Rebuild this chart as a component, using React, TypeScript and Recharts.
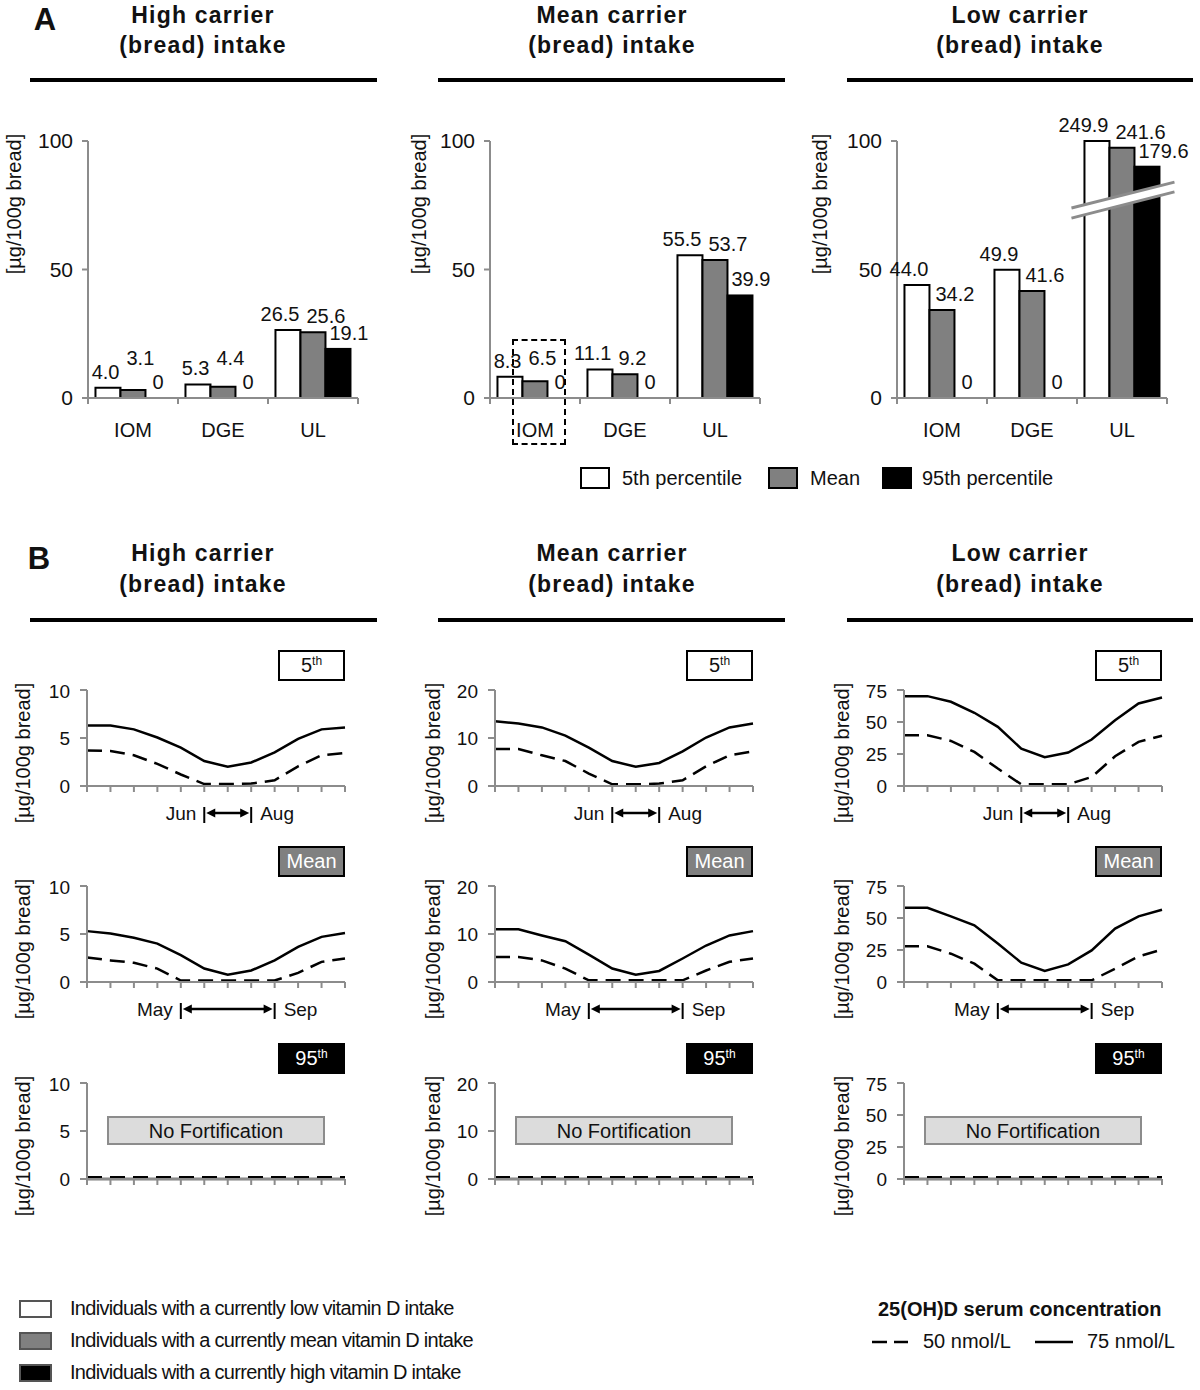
import React from "react";
import {
  BarChart,
  Bar,
  LineChart,
  Line,
  XAxis,
  YAxis,
  LabelList,
  ReferenceLine,
} from "recharts";

const FONT = '"Liberation Sans", Arial, Helvetica, sans-serif';
const AXIS = "#8c8c8c";

// ---- panel A: required fortification per guideline ----
const guidelines = ["IOM", "DGE", "UL"];

const highP5 = [4.0, 5.3, 26.5];
const highMean = [3.1, 4.4, 25.6];
const highP95 = [0, 0, 19.1];

const meanP5 = [8.3, 11.1, 55.5];
const meanMean = [6.5, 9.2, 53.7];
const meanP95 = [0, 0, 39.9];

const lowP5 = [44.0, 49.9, 249.9];
const lowMean = [34.2, 41.6, 241.6];
const lowP95 = [0, 0, 179.6];
// UL bars of the low carrier panel are cut by an axis break, these are the drawn heights
const lowP5Drawn = [44.0, 49.9, 100];
const lowMeanDrawn = [34.2, 41.6, 97.4];
const lowP95Drawn = [0, 0, 90];

// ---- panel B: monthly fortification to reach 50 / 75 nmol/L ----
const months = ["Jan", "Feb", "Mar", "Apr", "May", "Jun", "Jul", "Aug", "Sep", "Oct", "Nov", "Dec"];

const high5th75 = [6.3, 6.3, 5.9, 5.05, 4.0, 2.6, 2.0, 2.45, 3.5, 4.9, 5.9, 6.1];
const high5th50 = [3.7, 3.65, 3.2, 2.3, 1.2, 0.2, 0.2, 0.25, 0.6, 2.05, 3.2, 3.45];
const highMean75 = [5.3, 5.05, 4.6, 4.0, 2.8, 1.4, 0.75, 1.2, 2.25, 3.65, 4.7, 5.1];
const highMean50 = [2.55, 2.25, 2.0, 1.4, 0.15, 0.15, 0.15, 0.15, 0.15, 0.95, 2.1, 2.45];
const highP95_75 = [0, 0, 0, 0, 0, 0, 0, 0, 0, 0, 0, 0];
const highP95_50 = [0.15, 0.15, 0.15, 0.15, 0.15, 0.15, 0.15, 0.15, 0.15, 0.15, 0.15, 0.15];

const mean5th75 = [13.5, 13.0, 12.2, 10.5, 8.0, 5.2, 4.0, 4.8, 7.2, 10.1, 12.2, 13.0];
const mean5th50 = [7.7, 7.7, 6.4, 5.2, 2.6, 0.35, 0.35, 0.5, 1.2, 4.1, 6.4, 7.2];
const meanMean75 = [11.0, 11.0, 9.7, 8.5, 5.7, 2.8, 1.5, 2.3, 4.9, 7.6, 9.7, 10.6];
const meanMean50 = [5.2, 5.2, 4.5, 2.8, 0.35, 0.35, 0.35, 0.35, 0.35, 2.4, 4.2, 4.9];
const meanP95_75 = [0, 0, 0, 0, 0, 0, 0, 0, 0, 0, 0, 0];
const meanP95_50 = [0.3, 0.3, 0.3, 0.3, 0.3, 0.3, 0.3, 0.3, 0.3, 0.3, 0.3, 0.3];

const low5th75 = [70.2, 70.2, 65.8, 57.2, 46.2, 29.2, 22.5, 26.1, 36.3, 51.4, 64.5, 69.2];
const low5th50 = [39.7, 39.7, 35.2, 26.6, 13.6, 1.3, 1.3, 1.3, 7.0, 23.2, 34.5, 39.2];
const lowMean75 = [58.0, 58.0, 51.3, 44.3, 30.0, 15.1, 8.6, 13.8, 24.7, 41.7, 51.3, 56.5];
const lowMean50 = [27.9, 27.9, 22.1, 14.3, 1.3, 1.3, 1.3, 1.3, 1.3, 10.4, 20.0, 25.3];
const lowP95_75 = [0, 0, 0, 0, 0, 0, 0, 0, 0, 0, 0, 0];
const lowP95_50 = [1.1, 1.1, 1.1, 1.1, 1.1, 1.1, 1.1, 1.1, 1.1, 1.1, 1.1, 1.1];

const fmt = (v: number) => (v === 0 ? "0" : v.toFixed(1));

function barRows(p5: number[], mean: number[], p95: number[], d5 = p5, dm = mean, d95 = p95) {
  return guidelines.map((name, i) => ({
    name,
    p5: d5[i],
    mean: dm[i],
    p95: d95[i],
    p5Label: fmt(p5[i]),
    meanLabel: fmt(mean[i]),
    p95Label: fmt(p95[i]),
  }));
}

// layout of the small multiples
const BAR_LEFTS = [88, 490, 897];
const BAR_TOP = 141;
const BAR_W = 270;
const BAR_H = 257;

const LINE_LEFTS = [87, 495, 904];
const LINE_TOPS = [690, 886, 1083];
const LINE_W = 258;
const LINE_H = 96;

const Abs = ({ x, y, children, style }: any) => (
  <div
    style={{
      position: "absolute",
      left: x,
      top: y,
      transform: "translate(-50%, -50%)",
      whiteSpace: "nowrap",
      fontFamily: FONT,
      color: "#111",
      ...style,
    }}
  >
    {children}
  </div>
);

const YLabel = ({ x, y }: { x: number; y: number }) => (
  <Abs x={x} y={y} style={{ fontSize: 20, transform: "translate(-50%, -50%) rotate(-90deg)" }}>
    [µg/100g bread]
  </Abs>
);

function barLabel(kind: "p5" | "mean" | "p95") {
  return (props: any) => {
    const { x, y, width, height, value } = props;
    if (value == null) return null;
    const text = String(value);
    const axisY = y + height;
    let tx = x + width / 2;
    let anchor: "middle" | "start" | "end" = "middle";
    let cy = y - 16;
    if (text !== "0") {
      if (kind === "p5") {
        tx = x + width - 1;
        anchor = "end";
      } else if (kind === "mean") {
        tx = x + 6;
        anchor = "start";
        cy = Math.min(cy, axisY - 40);
      } else {
        tx = x + 4;
        anchor = "start";
      }
    }
    return (
      <text x={tx} y={cy + 7} textAnchor={anchor} fontSize={20} fill="#111" fontFamily={FONT}>
        {text}
      </text>
    );
  };
}

// black bar; on the broken UL group it also paints the axis break over the three bars
function BrokenBar(props: any) {
  const { x, y, width, height, fill, index, payload, withBreak } = props;
  if (!height || height <= 0) return <g />;
  const rect = <rect x={x} y={y} width={width} height={height} fill={fill} stroke="#000" strokeWidth={2} />;
  if (!withBreak || index !== 2) return rect;
  const ppu = height / payload.p95;
  const base = y + height;
  const xl = x - 2 * width - 13;
  const xr = x + width + 15;
  const at = (v: number) => base - v * ppu;
  return (
    <g>
      {rect}
      <polygon
        points={`${xl},${at(73.9)} ${xr},${at(84)} ${xr},${at(80.2)} ${xl},${at(70)}`}
        fill="#fff"
        stroke="none"
      />
      <line x1={xl} y1={at(73.9)} x2={xr} y2={at(84)} stroke={AXIS} strokeWidth={3} />
      <line x1={xl} y1={at(70)} x2={xr} y2={at(80.2)} stroke={AXIS} strokeWidth={3} />
    </g>
  );
}

function GuideTick(props: any) {
  const { x, y, payload, index, band } = props;
  const axisY = y - 8;
  return (
    <g>
      <line x1={x - band / 2} x2={x - band / 2} y1={axisY} y2={axisY + 6} stroke={AXIS} strokeWidth={2} />
      {index === guidelines.length - 1 && (
        <line x1={x + band / 2} x2={x + band / 2} y1={axisY} y2={axisY + 6} stroke={AXIS} strokeWidth={2} />
      )}
      <text x={x} y={axisY + 39} textAnchor="middle" fontSize={20} fill="#111" fontFamily={FONT}>
        {payload.value}
      </text>
    </g>
  );
}

function GuidelineBars({ left, rows, withBreak }: { left: number; rows: any[]; withBreak?: boolean }) {
  const W = 64;
  const mt = 45;
  const mr = 40;
  const xh = 50;
  return (
    <div style={{ position: "absolute", left: left - W, top: BAR_TOP - mt }}>
      <BarChart
        width={W + BAR_W + mr}
        height={mt + BAR_H + xh}
        data={rows}
        margin={{ top: mt, right: mr, bottom: 0, left: 0 }}
        barCategoryGap="8.3%"
        barGap={0}
      >
        <XAxis
          dataKey="name"
          height={xh}
          axisLine={{ stroke: AXIS, strokeWidth: 2 }}
          tickLine={false}
          tickSize={6}
          tickMargin={2}
          interval={0}
          tick={<GuideTick band={BAR_W / guidelines.length} />}
        />
        <YAxis
          width={W}
          domain={[0, 100]}
          ticks={[0, 50, 100]}
          axisLine={{ stroke: AXIS, strokeWidth: 2 }}
          tickLine={{ stroke: AXIS, strokeWidth: 2 }}
          tickSize={6}
          tickMargin={9}
          tick={{ fontSize: 21, fill: "#111", fontFamily: FONT }}
        />
        <Bar dataKey="p5" fill="#ffffff" stroke="#000" strokeWidth={2} isAnimationActive={false}>
          <LabelList dataKey="p5Label" content={barLabel("p5")} />
        </Bar>
        <Bar dataKey="mean" fill="#808080" stroke="#000" strokeWidth={2} isAnimationActive={false}>
          <LabelList dataKey="meanLabel" content={barLabel("mean")} />
        </Bar>
        <Bar
          dataKey="p95"
          fill="#000000"
          isAnimationActive={false}
          shape={(p: any) => <BrokenBar {...p} withBreak={withBreak} />}
        >
          <LabelList dataKey="p95Label" content={barLabel("p95")} />
        </Bar>
      </BarChart>
    </div>
  );
}

const STEP = LINE_W / (months.length - 1);

function MonthTick(props: any) {
  const { x, y, index, annot } = props;
  if (!annot) return <g />;
  const [s, e, l1, l2] = annot;
  const axisY = y - 8;
  const top = axisY + 21;
  const bot = axisY + 37;
  const mid = axisY + 27;
  if (index === s) {
    const x2 = x + (e - s) * STEP;
    return (
      <g>
        <text x={x - 8} y={mid + 7} textAnchor="end" fontSize={19} fill="#111" fontFamily={FONT}>
          {l1}
        </text>
        <line x1={x} x2={x} y1={top} y2={bot} stroke="#000" strokeWidth={2} />
        <line x1={x + 8} x2={x2 - 8} y1={mid} y2={mid} stroke="#000" strokeWidth={2.5} />
        <polygon points={`${x + 2},${mid} ${x + 11},${mid - 4.5} ${x + 11},${mid + 4.5}`} fill="#000" />
        <polygon points={`${x2 - 2},${mid} ${x2 - 11},${mid - 4.5} ${x2 - 11},${mid + 4.5}`} fill="#000" />
      </g>
    );
  }
  if (index === e) {
    return (
      <g>
        <line x1={x} x2={x} y1={top} y2={bot} stroke="#000" strokeWidth={2} />
        <text x={x + 9} y={mid + 7} textAnchor="start" fontSize={19} fill="#111" fontFamily={FONT}>
          {l2}
        </text>
      </g>
    );
  }
  return <g />;
}

function NoFortLabel(props: any) {
  const vb = props.viewBox || {};
  const cx = vb.x + vb.width / 2;
  const cy = vb.y;
  return (
    <g>
      <rect x={cx - 108} y={cy - 14} width={216} height={27} fill="#dcdcdc" stroke={AXIS} strokeWidth={2} />
      <text x={cx} y={cy + 7} textAnchor="middle" fontSize={20} fill="#111" fontFamily={FONT}>
        No Fortification
      </text>
    </g>
  );
}

function SeasonLines({
  left,
  top,
  ymax,
  ticks,
  solid,
  dashed,
  annot,
  noFort,
}: {
  left: number;
  top: number;
  ymax: number;
  ticks: number[];
  solid: number[];
  dashed: number[];
  annot?: [number, number, string, string];
  noFort?: boolean;
}) {
  const W = 64;
  const mt = 10;
  const xh = 45;
  const data = months.map((m, i) => ({ m, c75: solid[i], c50: dashed[i] }));
  return (
    <div style={{ position: "absolute", left: left - W, top: top - mt }}>
      <LineChart
        width={W + LINE_W + 10}
        height={mt + LINE_H + xh}
        data={data}
        margin={{ top: mt, right: 10, bottom: 0, left: 0 }}
      >
        <XAxis
          dataKey="m"
          height={xh}
          interval={0}
          axisLine={{ stroke: AXIS, strokeWidth: 2 }}
          tickLine={{ stroke: AXIS, strokeWidth: 2 }}
          tickSize={6}
          tickMargin={2}
          tick={<MonthTick annot={annot} />}
        />
        <YAxis
          width={W}
          domain={[0, ymax]}
          ticks={ticks}
          axisLine={{ stroke: AXIS, strokeWidth: 2 }}
          tickLine={{ stroke: AXIS, strokeWidth: 2 }}
          tickSize={7}
          tickMargin={10}
          tick={{ fontSize: 19, fill: "#111", fontFamily: FONT }}
        />
        {noFort && <ReferenceLine y={ymax / 2} stroke="none" label={NoFortLabel} />}
        <Line
          type="linear"
          dataKey="c75"
          stroke="#000"
          strokeWidth={2.5}
          dot={false}
          isAnimationActive={false}
        />
        <Line
          type="linear"
          dataKey="c50"
          stroke="#000"
          strokeWidth={noFort ? 3 : 2.5}
          strokeDasharray="15 8"
          dot={false}
          isAnimationActive={false}
        />
      </LineChart>
    </div>
  );
}

const Badge = ({ right, top, kind }: { right: number; top: number; kind: "5th" | "Mean" | "95th" }) => {
  const bg = kind === "5th" ? "#fff" : kind === "Mean" ? "#808080" : "#000";
  const fg = kind === "5th" ? "#111" : "#fff";
  const num = kind === "Mean" ? "Mean" : kind.replace("th", "");
  return (
    <div
      style={{
        position: "absolute",
        left: right - 67,
        top,
        width: 67,
        height: 31,
        boxSizing: "border-box",
        border: "2px solid #000",
        background: bg,
        color: fg,
        fontFamily: FONT,
        fontSize: 20,
        display: "flex",
        alignItems: "center",
        justifyContent: "center",
      }}
    >
      {num}
      {kind !== "Mean" && <sup style={{ fontSize: 12, marginTop: -10 }}>th</sup>}
    </div>
  );
};

const titles = [
  ["High carrier", "(bread) intake"],
  ["Mean carrier", "(bread) intake"],
  ["Low carrier", "(bread) intake"],
];
const titleX = [203, 612, 1020];
const ruleX = [
  [30, 377],
  [438, 785],
  [847, 1193],
];

function Header({ y1, y2, ruleY }: { y1: number; y2: number; ruleY: number }) {
  return (
    <>
      {titles.map((t, i) => (
        <React.Fragment key={i}>
          <Abs x={titleX[i]} y={y1} style={{ fontSize: 23, fontWeight: 700, letterSpacing: 1.2 }}>
            {t[0]}
          </Abs>
          <Abs x={titleX[i]} y={y2} style={{ fontSize: 23, fontWeight: 700, letterSpacing: 1.2 }}>
            {t[1]}
          </Abs>
          <div
            style={{
              position: "absolute",
              left: ruleX[i][0],
              top: ruleY - 2,
              width: ruleX[i][1] - ruleX[i][0],
              height: 4,
              background: "#000",
            }}
          />
        </React.Fragment>
      ))}
    </>
  );
}

const LegendBox = ({ x, y, w, h, fill, border }: any) => (
  <div
    style={{
      position: "absolute",
      left: x,
      top: y,
      width: w,
      height: h,
      boxSizing: "border-box",
      background: fill,
      border: `2px solid ${border}`,
    }}
  />
);

export default function App() {
  const seasonCols = [
    {
      ymax: 10,
      ticks: [0, 5, 10],
      rows: [
        [high5th75, high5th50],
        [highMean75, highMean50],
        [highP95_75, highP95_50],
      ],
    },
    {
      ymax: 20,
      ticks: [0, 10, 20],
      rows: [
        [mean5th75, mean5th50],
        [meanMean75, meanMean50],
        [meanP95_75, meanP95_50],
      ],
    },
    {
      ymax: 75,
      ticks: [0, 25, 50, 75],
      rows: [
        [low5th75, low5th50],
        [lowMean75, lowMean50],
        [lowP95_75, lowP95_50],
      ],
    },
  ];
  const annots: ([number, number, string, string] | undefined)[] = [
    [5, 7, "Jun", "Aug"],
    [4, 8, "May", "Sep"],
    undefined,
  ];
  const badgeKinds: ("5th" | "Mean" | "95th")[] = ["5th", "Mean", "95th"];
  const yLabelX = [23, 433, 842];

  return (
    <div
      style={{
        position: "absolute",
        left: 0,
        top: 0,
        width: 1200,
        height: 1390,
        background: "#fff",
        overflow: "hidden",
        fontFamily: FONT,
      }}
    >
      {/* panel A */}
      <Abs x={45} y={20} style={{ fontSize: 31, fontWeight: 700 }}>
        A
      </Abs>
      <Header y1={15} y2={45} ruleY={80} />
      <YLabel x={14} y={204} />
      <YLabel x={419} y={204} />
      <YLabel x={820} y={204} />
      <GuidelineBars left={BAR_LEFTS[0]} rows={barRows(highP5, highMean, highP95)} />
      <GuidelineBars left={BAR_LEFTS[1]} rows={barRows(meanP5, meanMean, meanP95)} />
      <GuidelineBars
        left={BAR_LEFTS[2]}
        rows={barRows(lowP5, lowMean, lowP95, lowP5Drawn, lowMeanDrawn, lowP95Drawn)}
        withBreak
      />
      <div
        style={{
          position: "absolute",
          left: 512,
          top: 339,
          width: 54,
          height: 106,
          boxSizing: "border-box",
          border: "2px dashed #000",
        }}
      />
      <LegendBox x={580} y={467} w={30} h={22} fill="#fff" border="#000" />
      <div style={{ position: "absolute", left: 622, top: 467, fontSize: 20, color: "#111" }}>5th percentile</div>
      <LegendBox x={768} y={467} w={30} h={22} fill="#808080" border="#000" />
      <div style={{ position: "absolute", left: 810, top: 467, fontSize: 20, color: "#111" }}>Mean</div>
      <LegendBox x={882} y={467} w={30} h={22} fill="#000" border="#000" />
      <div style={{ position: "absolute", left: 922, top: 467, fontSize: 20, color: "#111" }}>95th percentile</div>

      {/* panel B */}
      <Abs x={39} y={559} style={{ fontSize: 31, fontWeight: 700 }}>
        B
      </Abs>
      <Header y1={553} y2={584} ruleY={620} />
      {seasonCols.map((col, c) =>
        col.rows.map((r, row) => (
          <React.Fragment key={`${c}-${row}`}>
            <YLabel x={yLabelX[c]} y={LINE_TOPS[row] + 63} />
            <Badge right={LINE_LEFTS[c] + LINE_W} top={LINE_TOPS[row] - 40} kind={badgeKinds[row]} />
            <SeasonLines
              left={LINE_LEFTS[c]}
              top={LINE_TOPS[row]}
              ymax={col.ymax}
              ticks={col.ticks}
              solid={r[0]}
              dashed={r[1]}
              annot={annots[row]}
              noFort={row === 2}
            />
          </React.Fragment>
        ))
      )}

      {/* bottom legends */}
      <LegendBox x={19} y={1300} w={33} h={18} fill="#fff" border="#555" />
      <LegendBox x={19} y={1332} w={33} h={18} fill="#808080" border="#555" />
      <LegendBox x={19} y={1364} w={33} h={18} fill="#000" border="#555" />
      {[
        "Individuals with a currently low vitamin D intake",
        "Individuals with a currently mean vitamin D intake",
        "Individuals with a currently high vitamin D intake",
      ].map((t, i) => (
        <div
          key={t}
          style={{
            position: "absolute",
            left: 70,
            top: 1297 + i * 32,
            fontSize: 20,
            letterSpacing: -0.7,
            color: "#111",
            whiteSpace: "nowrap",
          }}
        >
          {t}
        </div>
      ))}
      <div
        style={{
          position: "absolute",
          left: 878,
          top: 1298,
          fontSize: 20,
          fontWeight: 700,
          color: "#111",
          whiteSpace: "nowrap",
        }}
      >
        25(OH)D serum concentration
      </div>
      <svg style={{ position: "absolute", left: 860, top: 1330 }} width={230} height={24}>
        <line x1={12} x2={48} y1={12} y2={12} stroke="#000" strokeWidth={2.5} strokeDasharray="15 7" />
        <line x1={175} x2={213} y1={12} y2={12} stroke="#000" strokeWidth={2.5} />
      </svg>
      <div style={{ position: "absolute", left: 923, top: 1330, fontSize: 20, color: "#111" }}>50 nmol/L</div>
      <div style={{ position: "absolute", left: 1087, top: 1330, fontSize: 20, color: "#111" }}>75 nmol/L</div>
    </div>
  );
}
